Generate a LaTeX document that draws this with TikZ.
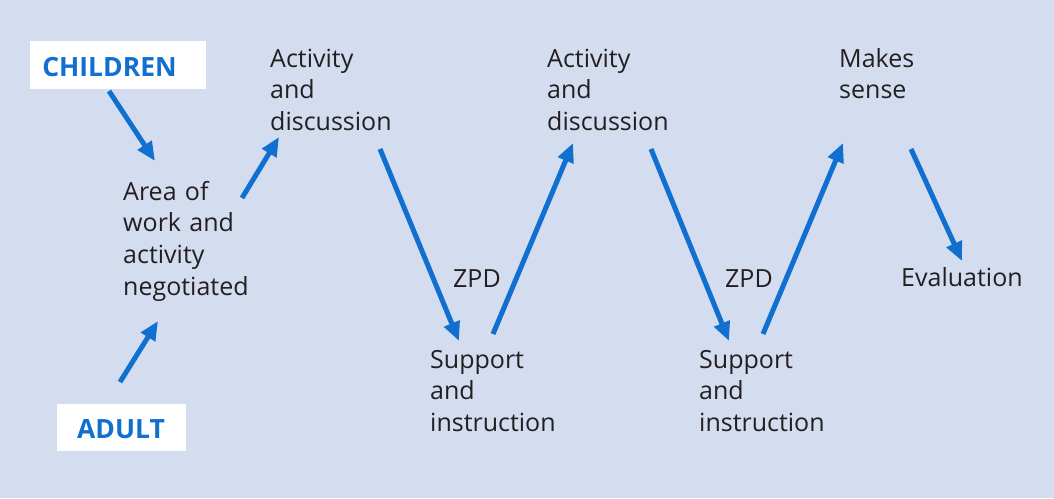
\documentclass[tikz,border=0pt]{standalone}
\usepackage{fontspec}
\setmainfont{Open Sans}
\usetikzlibrary{arrows.meta}
\definecolor{bgc}{HTML}{D3DDEF}
\definecolor{arrowc}{HTML}{1170CF}
\definecolor{txtc}{HTML}{231F20}
\tikzset{
  lbl/.style={anchor=base west, inner sep=0pt, text width=200pt, align=left,
    text=txtc, font=\fontsize{25}{31.7}\selectfont},
  tagbox/.style={fill=white, inner sep=0pt},
  tagtext/.style={inner sep=0pt, text=arrowc,
    font=\fontsize{26.5}{30}\bfseries\selectfont},
  flow/.style={draw=arrowc, line width=5pt, -{Triangle[length=19pt,width=16pt]}},
}
\begin{document}
\begin{tikzpicture}[x=1pt,y=-1pt]
\useasboundingbox (0,0) rectangle (1054,498);
\fill[bgc] (0,0) rectangle (1054,498);

\node[tagbox, minimum width=176pt, minimum height=48pt] (children) at (118,65) {};
\node[tagtext, anchor=base] (childrentxt) at (109.5,76) {CHILDREN};
\node[tagbox, minimum width=129pt, minimum height=47pt] (adult) at (121.5,427.5) {};
\node[tagtext, anchor=base] (adulttxt) at (121,438) {ADULT};

\node[lbl] (area) at (123,200) {Area of\\work and\\activity\\negotiated};
\node[lbl] (act1) at (270,67) {Activity\\and\\discussion};
\node[lbl] (act2) at (547,67) {Activity\\and\\discussion};
\node[lbl] (sense) at (839,67) {Makes\\sense};
\node[lbl] (sup1) at (430,368) {Support\\and\\instruction};
\node[lbl] (sup2) at (699,368) {Support\\and\\instruction};
\node[lbl] (zpd1) at (453,287) {ZPD};
\node[lbl] (zpd2) at (725,287) {ZPD};
\node[lbl] (eval) at (901,286) {Evaluation};

\coordinate (c1s) at (109,91);  \coordinate (c1e) at (155,161);
\coordinate (c2s) at (120,382); \coordinate (c2e) at (158,321);
\coordinate (c3s) at (242,198); \coordinate (c3e) at (279,137);
\coordinate (c4s) at (380,149); \coordinate (c4e) at (459,341);
\coordinate (c5s) at (493,334); \coordinate (c5e) at (573,143);
\coordinate (c6s) at (651,149); \coordinate (c6e) at (729,341);
\coordinate (c7s) at (763,334); \coordinate (c7e) at (843,143);
\coordinate (c8s) at (911,149); \coordinate (c8e) at (962,261);

\draw[flow] (c1s) -- (c1e);
\draw[flow] (c2s) -- (c2e);
\draw[flow] (c3s) -- (c3e);
\draw[flow] (c4s) -- (c4e);
\draw[flow] (c5s) -- (c5e);
\draw[flow] (c6s) -- (c6e);
\draw[flow] (c7s) -- (c7e);
\draw[flow] (c8s) -- (c8e);
\end{tikzpicture}
\end{document}
